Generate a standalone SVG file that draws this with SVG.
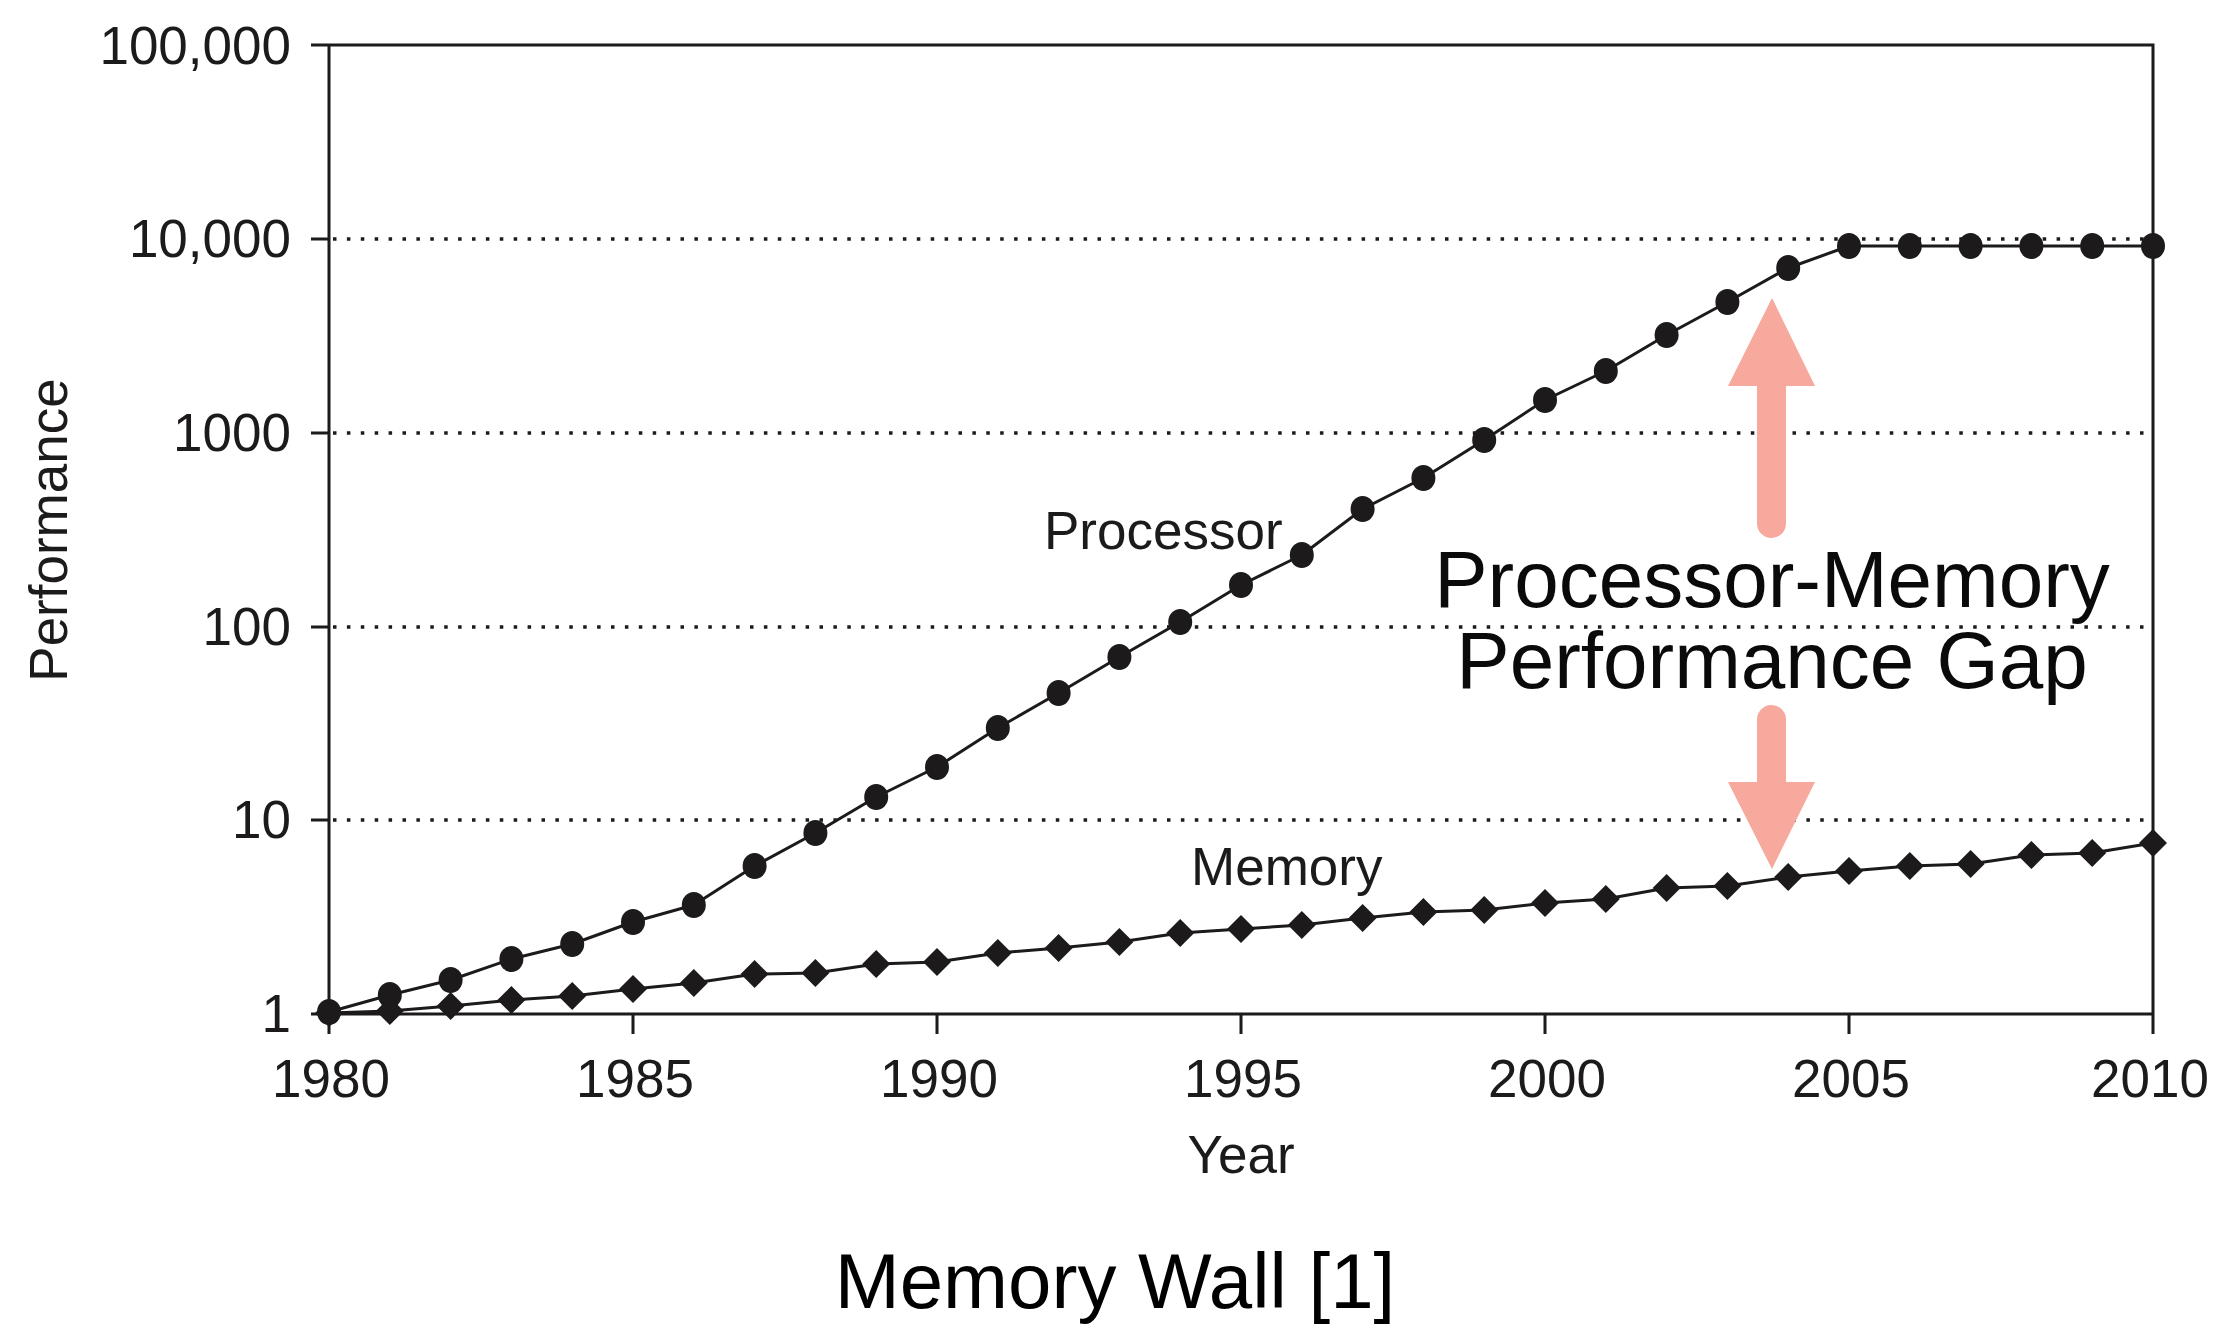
<svg xmlns="http://www.w3.org/2000/svg" xmlns:xlink="http://www.w3.org/1999/xlink" width="2214" height="1331" viewBox="0 0 2214 1331">
  <style>
    text { font-family: "Liberation Sans", Arial, Helvetica, sans-serif; fill: #1c1a1a; }
    .tick { font-size: 53px; }
    .ylab { text-anchor: end; }
    .xlab { text-anchor: middle; }
    .axis { stroke: #1c1a1a; stroke-width: 3; fill: none; stroke-linecap: butt; }
    .grid { stroke: #1c1a1a; stroke-width: 3.5; stroke-dasharray: 3.5 10.4; fill: none; }
    .series { stroke: #1c1a1a; stroke-width: 3; fill: none; stroke-linejoin: round; }
    .gap { fill: #F6A99C; }
    .big { font-size: 80px; text-anchor: middle; fill: #0a0a0a; }
  </style>
  <defs>
    <ellipse id="dot" cx="0" cy="0" rx="12" ry="13" fill="#1c1a1a"/>
    <path id="dia" d="M0,-14 L14,0 L0,14 L-14,0 Z" fill="#1c1a1a"/>
  </defs>
  <rect width="2214" height="1331" fill="#ffffff"/>

  <g id="grid">
    <line class="grid" x1="333" y1="239" x2="2151" y2="239"/>
    <line class="grid" x1="333" y1="433" x2="2151" y2="433"/>
    <line class="grid" x1="333" y1="627" x2="2151" y2="627"/>
    <line class="grid" x1="333" y1="820" x2="2151" y2="820"/>
  </g>

  <g id="axes">
    <path class="axis" d="M311,45 H2153 V1034 M329,45 V1034 M311,1014 H2153"/>
    <path class="axis" d="M311,239 H329 M311,433 H329 M311,627 H329 M311,820 H329"/>
    <path class="axis" d="M633,1014 V1034 M937,1014 V1034 M1241,1014 V1034 M1545,1014 V1034 M1849,1014 V1034"/>
  </g>

  <g id="y-labels" class="tick">
    <text class="ylab" x="291" y="64">100,000</text>
    <text class="ylab" x="291" y="257">10,000</text>
    <text class="ylab" x="291" y="451">1000</text>
    <text class="ylab" x="291" y="645">100</text>
    <text class="ylab" x="291" y="838">10</text>
    <text class="ylab" x="291" y="1032">1</text>
  </g>

  <g id="x-labels" class="tick">
    <text class="xlab" x="331" y="1097">1980</text>
    <text class="xlab" x="635" y="1097">1985</text>
    <text class="xlab" x="939" y="1097">1990</text>
    <text class="xlab" x="1243" y="1097">1995</text>
    <text class="xlab" x="1547" y="1097">2000</text>
    <text class="xlab" x="1851" y="1097">2005</text>
    <text class="xlab" x="2150" y="1097">2010</text>
  </g>

  <g id="axis-titles" class="tick">
    <text class="xlab" x="1241" y="1173">Year</text>
    <text class="xlab" transform="translate(67,530) rotate(-90)">Performance</text>
  </g>

  <g id="connectors">
    <polyline id="processor-line" class="series" points="329,1012 389.8,995 450.6,980 511.4,959 572.2,944 633,922 693.8,905 754.6,866 815.4,833 876.2,797 937,767 997.8,728 1058.6,693 1119.4,657 1180.2,622 1241,585 1301.8,555 1362.6,509 1423.4,478 1484.2,440 1545,400 1605.8,371 1666.6,335 1727.4,302 1788.2,268 1849,246 1909.8,246 1970.6,246 2031.4,246 2092.2,246 2153,246"/>
    <polyline id="memory-line" class="series" points="329,1013 389.8,1011 450.6,1006 511.4,1000 572.2,996 633,989 693.8,983 754.6,974 815.4,973 876.2,964 937,962 997.8,953 1058.6,948 1119.4,942 1180.2,933 1241,929 1301.8,925 1362.6,918 1423.4,912 1484.2,910 1545,903 1605.8,899 1666.6,888 1727.4,886 1788.2,877 1849,871 1909.8,866 1970.6,864 2031.4,855 2092.2,853 2153,843"/>
  </g>

  <g id="processor-points">
    <use href="#dot" x="329" y="1012"/>
    <use href="#dot" x="389.8" y="995"/>
    <use href="#dot" x="450.6" y="980"/>
    <use href="#dot" x="511.4" y="959"/>
    <use href="#dot" x="572.2" y="944"/>
    <use href="#dot" x="633" y="922"/>
    <use href="#dot" x="693.8" y="905"/>
    <use href="#dot" x="754.6" y="866"/>
    <use href="#dot" x="815.4" y="833"/>
    <use href="#dot" x="876.2" y="797"/>
    <use href="#dot" x="937" y="767"/>
    <use href="#dot" x="997.8" y="728"/>
    <use href="#dot" x="1058.6" y="693"/>
    <use href="#dot" x="1119.4" y="657"/>
    <use href="#dot" x="1180.2" y="622"/>
    <use href="#dot" x="1241" y="585"/>
    <use href="#dot" x="1301.8" y="555"/>
    <use href="#dot" x="1362.6" y="509"/>
    <use href="#dot" x="1423.4" y="478"/>
    <use href="#dot" x="1484.2" y="440"/>
    <use href="#dot" x="1545" y="400"/>
    <use href="#dot" x="1605.8" y="371"/>
    <use href="#dot" x="1666.6" y="335"/>
    <use href="#dot" x="1727.4" y="302"/>
    <use href="#dot" x="1788.2" y="268"/>
    <use href="#dot" x="1849" y="246"/>
    <use href="#dot" x="1909.8" y="246"/>
    <use href="#dot" x="1970.6" y="246"/>
    <use href="#dot" x="2031.4" y="246"/>
    <use href="#dot" x="2092.2" y="246"/>
    <use href="#dot" x="2153" y="246"/>
  </g>

  <g id="memory-points">
    <use href="#dia" x="329" y="1013"/>
    <use href="#dia" x="389.8" y="1011"/>
    <use href="#dia" x="450.6" y="1006"/>
    <use href="#dia" x="511.4" y="1000"/>
    <use href="#dia" x="572.2" y="996"/>
    <use href="#dia" x="633" y="989"/>
    <use href="#dia" x="693.8" y="983"/>
    <use href="#dia" x="754.6" y="974"/>
    <use href="#dia" x="815.4" y="973"/>
    <use href="#dia" x="876.2" y="964"/>
    <use href="#dia" x="937" y="962"/>
    <use href="#dia" x="997.8" y="953"/>
    <use href="#dia" x="1058.6" y="948"/>
    <use href="#dia" x="1119.4" y="942"/>
    <use href="#dia" x="1180.2" y="933"/>
    <use href="#dia" x="1241" y="929"/>
    <use href="#dia" x="1301.8" y="925"/>
    <use href="#dia" x="1362.6" y="918"/>
    <use href="#dia" x="1423.4" y="912"/>
    <use href="#dia" x="1484.2" y="910"/>
    <use href="#dia" x="1545" y="903"/>
    <use href="#dia" x="1605.8" y="899"/>
    <use href="#dia" x="1666.6" y="888"/>
    <use href="#dia" x="1727.4" y="886"/>
    <use href="#dia" x="1788.2" y="877"/>
    <use href="#dia" x="1849" y="871"/>
    <use href="#dia" x="1909.8" y="866"/>
    <use href="#dia" x="1970.6" y="864"/>
    <use href="#dia" x="2031.4" y="855"/>
    <use href="#dia" x="2092.2" y="853"/>
    <use href="#dia" x="2153" y="843"/>
  </g>

  <g id="series-labels" class="tick">
    <text x="1044" y="549">Processor</text>
    <text x="1191" y="885">Memory</text>
  </g>

  <g id="gap-annotation">
    <path class="gap" d="M1772,298 L1815,386 L1786,386 L1786,523.5 A14.5,14.5 0 0 1 1757,523.5 L1757,386 L1728,386 Z"/>
    <path class="gap" d="M1757,719.5 A14.5,14.5 0 0 1 1786,719.5 L1786,782 L1815,782 L1772,869 L1728,782 L1757,782 Z"/>
    <text class="big" x="1772" y="607">Processor-Memory</text>
    <text class="big" x="1772" y="688">Performance Gap</text>
  </g>

  <g id="caption">
    <text x="1115" y="1308" font-size="78" text-anchor="middle" fill="#000000" style="fill:#000000">Memory Wall [1]</text>
  </g>
</svg>
